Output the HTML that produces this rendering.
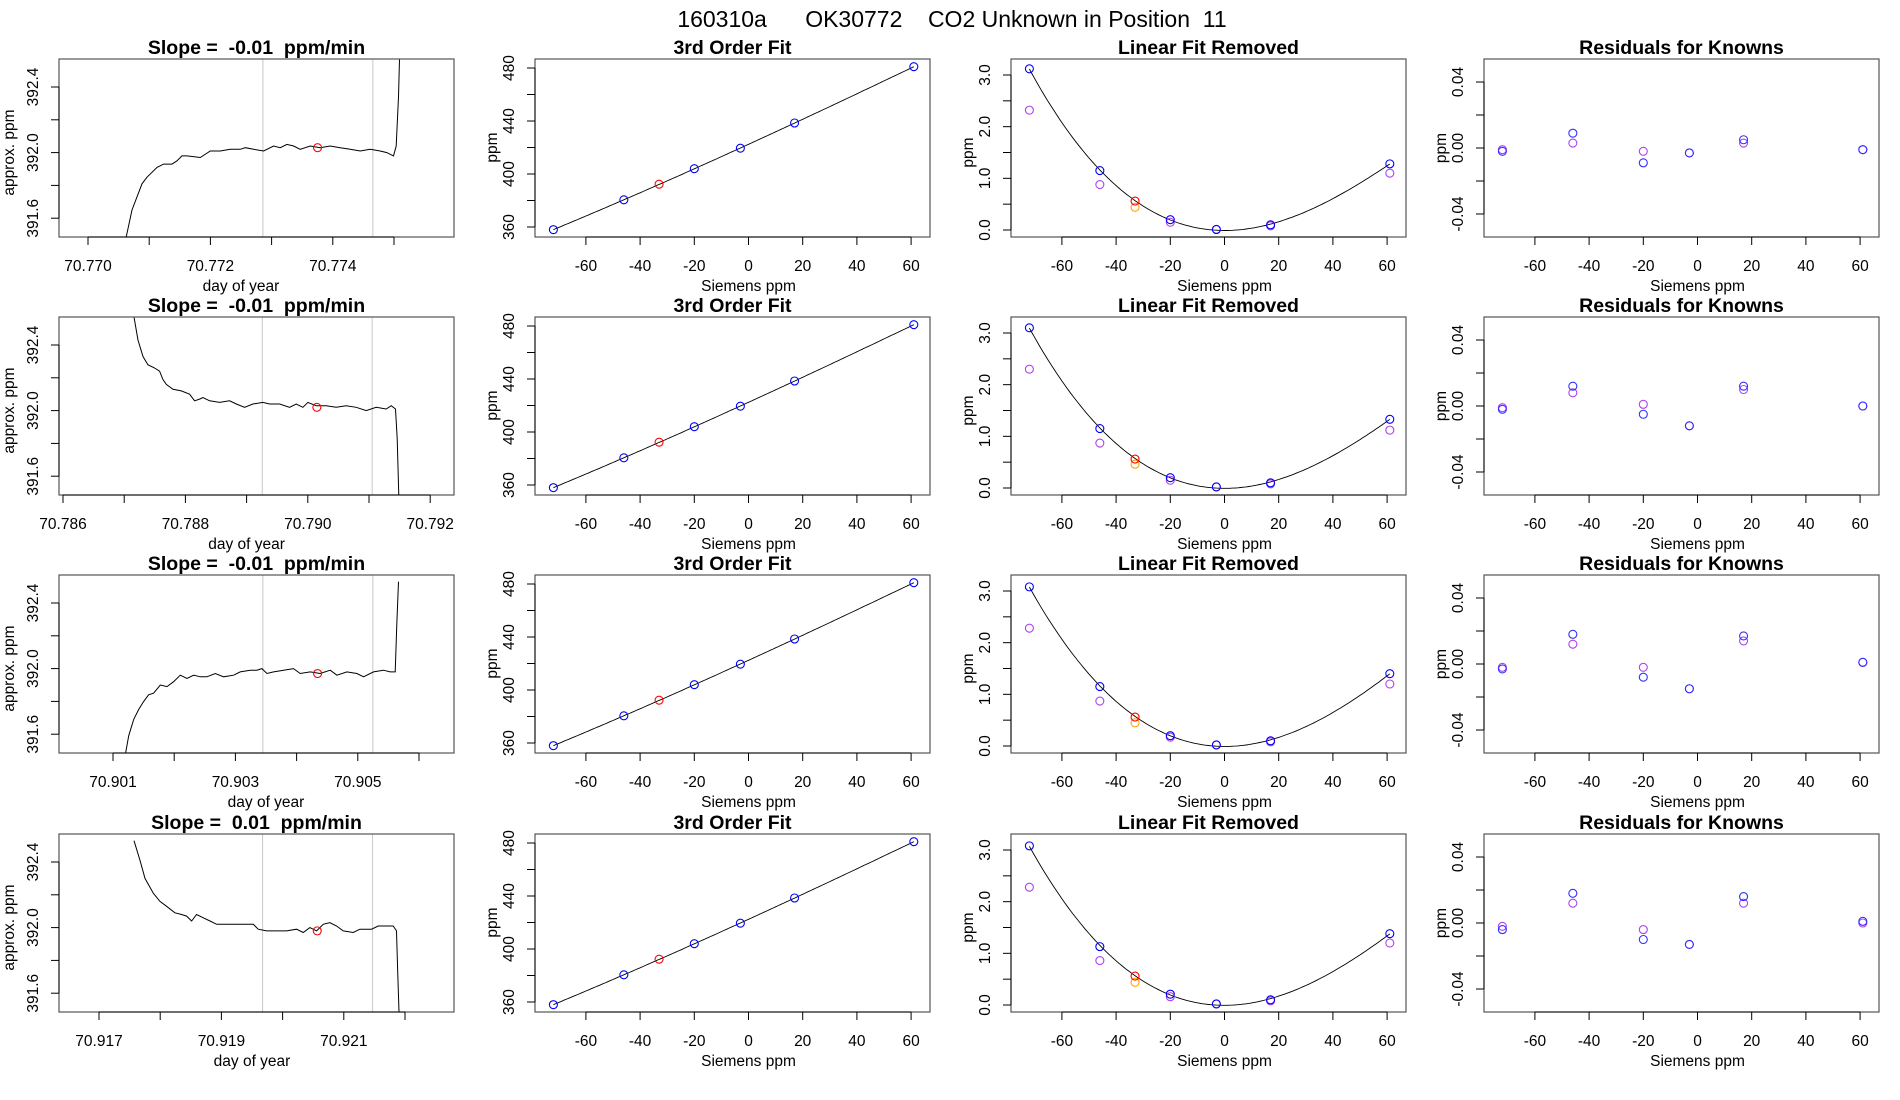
<!DOCTYPE html>
<html><head><meta charset="utf-8">
<style>
html,body{margin:0;padding:0;background:#fff;}
svg{display:block;font-family:"Liberation Sans",sans-serif;}
</style></head>
<body>
<svg id="fig" xmlns="http://www.w3.org/2000/svg" width="1900" height="1100" viewBox="0 0 1900 1100">
<rect width="1900" height="1100" fill="#fff"/>
<text x="952" y="27" font-size="23" text-anchor="middle" style="white-space:pre">160310a      OK30772    CO2 Unknown in Position  11</text>
</svg>
<script>
// ---------- data ----------
const rowBaseDays = [70.770, 70.786, 70.901, 70.917];
const timeTickLabels = [
  ["70.770","","70.772","","70.774",""],
  ["70.786","","70.788","","70.790","","70.792"],
  ["70.901","","70.903","","70.905",""],
  ["70.917","","70.919","","70.921",""]
];
const slopeTitles = ["Slope =  -0.01  ppm/min","Slope =  -0.01  ppm/min","Slope =  -0.01  ppm/min","Slope =  0.01  ppm/min"];
// trace time offsets (1e-6 day from base) and ppm values
const traceOff1 = [610,719,882,964,1127,1236,1372,1454,1535,1617,1835,1998,2161,2325,2488,2570,2706,2869,3032,3141,3250,3359,3468,3631,3795,3958,4121,4284,4448,4611,4774,4883,4992,5036,5074,5090];
const tracePpm1 = [391.46,391.65,391.81,391.85,391.91,391.93,391.93,391.95,391.98,391.98,391.97,392.01,392.01,392.02,392.02,392.03,392.02,392.01,392.04,392.03,392.05,392.04,392.02,392.04,392.03,392.04,392.03,392.02,392.01,392.02,392.01,392.00,391.98,392.04,392.34,392.57];
const traceOff2 = [1160,1225,1307,1388,1497,1579,1633,1688,1797,1933,2069,2150,2232,2286,2395,2559,2722,2831,2967,3103,3266,3375,3539,3702,3811,3920,4001,4137,4301,4464,4627,4791,4954,5117,5281,5362,5433,5460,5487];
const tracePpm2 = [392.57,392.43,392.33,392.28,392.26,392.24,392.19,392.16,392.13,392.12,392.10,392.06,392.07,392.08,392.06,392.05,392.06,392.04,392.02,392.04,392.05,392.04,392.04,392.02,392.04,392.02,392.05,392.03,392.03,392.02,392.03,392.02,392.00,392.02,392.01,392.03,392.01,391.83,391.48];
const traceOff3 = [185,256,338,419,501,582,664,773,882,991,1100,1209,1318,1426,1535,1671,1807,1971,2079,2243,2352,2433,2515,2624,2787,2950,3059,3223,3386,3549,3658,3822,3985,4094,4257,4420,4529,4611,4638,4665];
const tracePpm3 = [391.44,391.59,391.69,391.75,391.80,391.84,391.85,391.90,391.89,391.92,391.96,391.94,391.96,391.95,391.95,391.97,391.95,391.96,391.98,391.99,391.99,392.00,391.97,391.98,391.99,392.00,391.97,391.98,391.97,391.99,391.96,391.98,391.97,391.95,391.98,391.99,391.98,391.98,392.27,392.53];
const traceOff4 = [572,670,751,887,996,1105,1241,1350,1432,1513,1595,1704,1813,1922,2085,2248,2412,2521,2602,2738,2902,3065,3228,3337,3446,3555,3664,3773,3882,3990,4154,4263,4372,4453,4562,4698,4807,4861,4878,4905];
const tracePpm4 = [392.53,392.41,392.30,392.21,392.16,392.13,392.09,392.08,392.07,392.04,392.08,392.06,392.04,392.02,392.02,392.02,392.02,392.02,391.99,391.98,391.98,391.98,391.99,391.97,392.00,391.98,392.02,392.03,392.01,391.98,391.97,391.99,391.99,391.99,392.01,392.01,392.01,391.98,391.77,391.45];
const markerOff = [3751,4148,3343,3566];
const markerPpm = [392.03,392.02,391.97,391.98];
const windowStart = [2858,3256,2449,2673];
const windowEnd = [4655,5052,4246,4470];

const knownX = [-72,-46,-20,-3,17,61];
const unknownX = -33;
const fitY1 = [358,380.5,404,419.5,438.5,481];
const fitY2 = [358,380.5,404,419.5,438.5,481];
const fitY3 = [358,380.5,404,419.5,438.5,481];
const fitY4 = [358,380.5,404,419.5,438.5,481];
const unknownFitY = [392.3,392.3,392.3,392.3];

const linRemBlue1 = [3.12,1.15,0.2,0.01,0.1,1.28];
const linRemPurple1 = [2.32,0.88,0.15,0.01,0.08,1.1];
const linRemBlue2 = [3.1,1.15,0.2,0.02,0.1,1.33];
const linRemPurple2 = [2.3,0.87,0.15,0.02,0.08,1.12];
const linRemBlue3 = [3.08,1.15,0.2,0.02,0.1,1.4];
const linRemPurple3 = [2.28,0.87,0.17,0.02,0.08,1.2];
const linRemBlue4 = [3.08,1.13,0.21,0.02,0.1,1.38];
const linRemPurple4 = [2.28,0.86,0.16,0.02,0.08,1.2];
const linRemRed = [0.56,0.56,0.56,0.56];
const linRemOrange = [0.44,0.46,0.45,0.44];

const residBlue1 = [-0.002,0.009,-0.009,-0.003,0.005,-0.001];
const residPurple1 = [-0.001,0.003,-0.002,-0.003,0.003,-0.001];
const residBlue2 = [-0.002,0.012,-0.005,-0.012,0.012,0.0];
const residPurple2 = [-0.001,0.008,0.001,-0.012,0.010,0.0];
const residBlue3 = [-0.003,0.018,-0.008,-0.015,0.017,0.001];
const residPurple3 = [-0.002,0.012,-0.002,-0.015,0.014,0.001];
const residBlue4 = [-0.004,0.018,-0.010,-0.013,0.016,0.001];
const residPurple4 = [-0.002,0.012,-0.004,-0.013,0.012,0.0];

const siemensTicks = [-60,-40,-20,0,20,40,60];
const fitTicks = [360,380,400,420,440,460,480];
const fitTickLabels = ["360","","400","","440","","480"];
const linTicks = [0,0.5,1,1.5,2,2.5,3];
const linTickLabels = ["0.0","","1.0","","2.0","","3.0"];
const resTicks = [-0.04,-0.02,0,0.02,0.04];
const resTickLabels = ["-0.04","","0.00","","0.04"];
const ppmTicks = [391.6,391.8,392.0,392.2,392.4];
const ppmTickLabels = ["391.6","","392.0","","392.4"];

// ---------- layout ----------
const tops = [59,317,575,834], H = 178;
const lefts = [59,535,1011,1484], W = 395;
const basePx = [88,63,113,99];
const svg = document.getElementById('fig');
const NS = 'http://www.w3.org/2000/svg';
function mk(tag, attrs, parent){
  const e = document.createElementNS(NS, tag);
  for (const k in attrs) e.setAttribute(k, attrs[k]);
  (parent||svg).appendChild(e);
  return e;
}
function txt(s, x, y, size, opts){
  const t = mk('text', Object.assign({x:x, y:y, 'font-size':size, 'text-anchor':'middle'}, opts||{}));
  t.textContent = s;
  return t;
}
function solveCubic(xs, ys){
  const n=4, A=[], b=[];
  for(let i=0;i<n;i++){A.push([0,0,0,0]);b.push(0);}
  xs.forEach((x,k)=>{for(let i=0;i<n;i++){b[i]+=ys[k]*Math.pow(x,i);for(let j=0;j<n;j++)A[i][j]+=Math.pow(x,i+j);}});
  for(let i=0;i<n;i++){
    let p=i;for(let r=i+1;r<n;r++)if(Math.abs(A[r][i])>Math.abs(A[p][i]))p=r;
    [A[i],A[p]]=[A[p],A[i]];[b[i],b[p]]=[b[p],b[i]];
    for(let r=i+1;r<n;r++){const f=A[r][i]/A[i][i];for(let c=i;c<n;c++)A[r][c]-=f*A[i][c];b[r]-=f*b[i];}
  }
  const c=[0,0,0,0];
  for(let i=n-1;i>=0;i--){let s=b[i];for(let j=i+1;j<n;j++)s-=A[i][j]*c[j];c[i]=s/A[i][i];}
  return c;
}
function frame(g, l, t){
  const r = mk('rect',{x:l,y:t,width:W,height:H,fill:'none',stroke:'#555','stroke-width':1.2},g);
  
  
}
function circ(g, cx, cy, color, name){
  const c = mk('circle',{cx:cx,cy:cy,r:4,fill:'none',stroke:color,'stroke-width':1.1},g);
  
  
}
function yAxis(g, l, ticks, labels, yf, title, titleX){
  const ax = mk('g',{},g);
  
  
  mk('line',{x1:l,x2:l,y1:yf(ticks[0]),y2:yf(ticks[ticks.length-1]),stroke:'#000'},ax);
  ticks.forEach((v,i)=>{
    const y=yf(v);
    mk('line',{x1:l-8,x2:l,y1:y,y2:y,stroke:'#000'},ax);
    if(labels[i]){
      const t=txt(labels[i], l-21, y, 15.5, {transform:`rotate(-90 ${l-21} ${y})`},ax);
      
      
      ax.appendChild(t);
    }
  });
  const tt = txt(title, titleX, 0, 15.5, {});
  const cy = (yf(ticks[0])+yf(ticks[ticks.length-1]))/2;
  tt.setAttribute('transform',`translate(${titleX} ${cy}) rotate(-90)`);
  tt.setAttribute('x',0);tt.setAttribute('y',0);
  
  
  ax.appendChild(tt);
}
function xAxis(g, t, ticks, labels, xf, title){
  const ax = mk('g',{},g);
  
  
  const b=t+H;
  mk('line',{x1:xf(ticks[0]),x2:xf(ticks[ticks.length-1]),y1:b,y2:b,stroke:'#000'},ax);
  ticks.forEach((v,i)=>{
    const x=xf(v);
    mk('line',{x1:x,x2:x,y1:b,y2:b+8,stroke:'#000'},ax);
    if(labels[i]){
      const tl=txt(labels[i], x, b+34, 15.5, {});
      
      
      ax.appendChild(tl);
    }
  });
  const tt=txt(title, (xf(ticks[0])+xf(ticks[ticks.length-1]))/2, b+54, 15.5, {});
  
  
  ax.appendChild(tt);
}
function panelTitle(g, s, l, t){
  const tt=txt(s, l+W/2, t-5, 19.5, {'font-weight':'bold', style:'white-space:pre'});
  
  
  g.appendChild(tt);
}

const traceOffs=[traceOff1,traceOff2,traceOff3,traceOff4];
const tracePpms=[tracePpm1,tracePpm2,tracePpm3,tracePpm4];
const fitYs=[fitY1,fitY2,fitY3,fitY4];
const linBlues=[linRemBlue1,linRemBlue2,linRemBlue3,linRemBlue4];
const linPurples=[linRemPurple1,linRemPurple2,linRemPurple3,linRemPurple4];
const resBlues=[residBlue1,residBlue2,residBlue3,residBlue4];
const resPurples=[residPurple1,residPurple2,residPurple3,residPurple4];

for(let r=0;r<4;r++){
  const t=tops[r];
  // ---- column 1: time trace ----
  {
    const l=lefts[0];
    const g=mk('g',{});
    
    
    const cp=mk('clipPath',{id:'clip'+r},g);
    mk('rect',{x:l,y:t,width:W,height:H},cp);
    const xf=d=>basePx[r]+(d-rowBaseDays[r])*61200;
    const yf=v=>t+28+(392.4-v)*164;
    const nT=timeTickLabels[r].length;
    const dayTicks=[];for(let i=0;i<nT;i++)dayTicks.push(rowBaseDays[r]+i*0.001);
    const ws=mk('line',{x1:xf(rowBaseDays[r]+windowStart[r]*1e-6),x2:xf(rowBaseDays[r]+windowStart[r]*1e-6),y1:t,y2:t+H,stroke:'#c8c8c8'},g);
    
    
    const we=mk('line',{x1:xf(rowBaseDays[r]+windowEnd[r]*1e-6),x2:xf(rowBaseDays[r]+windowEnd[r]*1e-6),y1:t,y2:t+H,stroke:'#c8c8c8'},g);
    
    
    const pts=traceOffs[r].map((o,i)=>xf(rowBaseDays[r]+o*1e-6).toFixed(1)+','+yf(tracePpms[r][i]).toFixed(1)).join(' ');
    const pl=mk('polyline',{points:pts,fill:'none',stroke:'#000','stroke-width':1,'clip-path':`url(#clip${r})`},g);
    
    
    circ(g, xf(rowBaseDays[r]+markerOff[r]*1e-6), yf(markerPpm[r]), '#ff0000', 'mean-marker');
    frame(g,l,t);
    yAxis(g,l,ppmTicks,ppmTickLabels,yf,'approx. ppm',14);
    xAxis(g,t,dayTicks,timeTickLabels[r],xf,'day of year');
    panelTitle(g,slopeTitles[r],l,t);
  }
  // ---- column 2: 3rd order fit ----
  {
    const l=lefts[1];
    const g=mk('g',{});
    
    
    const xf=v=>l+213.5+v*2.71;
    const yf=v=>t+9+(480-v)*(159/120);
    const c=solveCubic(knownX,fitYs[r]);
    const cp=[];for(let x=-72;x<=61;x+=1)cp.push(xf(x).toFixed(1)+','+yf(c[0]+c[1]*x+c[2]*x*x+c[3]*x*x*x).toFixed(1));
    const fl=mk('polyline',{points:cp.join(' '),fill:'none',stroke:'#000','stroke-width':0.9},g);
    
    
    knownX.forEach((x,i)=>circ(g,xf(x),yf(fitYs[r][i]),'#0000ff','known-standard-point'));
    circ(g,xf(unknownX),yf(unknownFitY[r]),'#ff0000','unknown-point');
    frame(g,l,t);
    yAxis(g,l,fitTicks,fitTickLabels,yf,'ppm',l-38);
    xAxis(g,t,siemensTicks,siemensTicks.map(String),xf,'Siemens ppm');
    panelTitle(g,'3rd Order Fit',l,t);
  }
  // ---- column 3: linear fit removed ----
  {
    const l=lefts[2];
    const g=mk('g',{});
    
    
    const xf=v=>l+213.5+v*2.71;
    const yf=v=>t+171-v*(155/3);
    const c=solveCubic(knownX,linBlues[r]);
    const cp=[];for(let x=-72;x<=61;x+=1)cp.push(xf(x).toFixed(1)+','+yf(c[0]+c[1]*x+c[2]*x*x+c[3]*x*x*x).toFixed(1));
    const fl=mk('polyline',{points:cp.join(' '),fill:'none',stroke:'#000','stroke-width':0.9},g);
    
    
    knownX.forEach((x,i)=>circ(g,xf(x),yf(linPurples[r][i]),'#b040f0','previous-cal-point'));
    knownX.forEach((x,i)=>circ(g,xf(x),yf(linBlues[r][i]),'#0000ff','known-standard-point'));
    circ(g,xf(unknownX),yf(linRemOrange[r]),'#ffa500','unknown-orange-point');
    circ(g,xf(unknownX),yf(linRemRed[r]),'#ff0000','unknown-point');
    frame(g,l,t);
    yAxis(g,l,linTicks,linTickLabels,yf,'ppm',l-38);
    xAxis(g,t,siemensTicks,siemensTicks.map(String),xf,'Siemens ppm');
    panelTitle(g,'Linear Fit Removed',l,t);
  }
  // ---- column 4: residuals ----
  {
    const l=lefts[3];
    const g=mk('g',{});
    
    
    const xf=v=>l+213.5+v*2.71;
    const yf=v=>t+89-v*(132/0.08);
    knownX.forEach((x,i)=>circ(g,xf(x),yf(resPurples[r][i]),'#b040f0','previous-residual-point'));
    knownX.forEach((x,i)=>circ(g,xf(x),yf(resBlues[r][i]),'#3030ff','residual-point'));
    frame(g,l,t);
    yAxis(g,l,resTicks,resTickLabels,yf,'ppm',l-38);
    xAxis(g,t,siemensTicks,siemensTicks.map(String),xf,'Siemens ppm');
    panelTitle(g,'Residuals for Knowns',l,t);
  }
}
</script>
</body></html>
